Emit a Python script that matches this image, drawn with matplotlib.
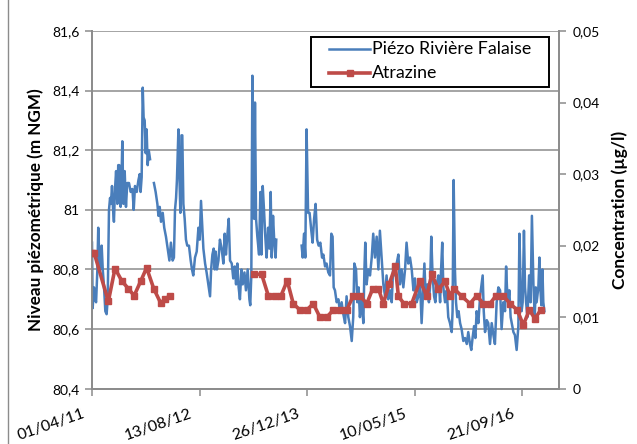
import numpy as np
import pandas as pd
import matplotlib
matplotlib.use("Agg")
import matplotlib.pyplot as plt
import matplotlib.dates as mdates
from matplotlib.ticker import FixedLocator, FuncFormatter
from matplotlib.lines import Line2D
from matplotlib.patches import Rectangle
from matplotlib.transforms import ScaledTranslation

plt.rcParams['font.family'] = ['Lato', 'DejaVu Sans']

# Groundwater level, Excel date serials (NaN marks a gap in the record)
piezo_serial = [
    40634, 40637, 40643, 40648, 40653, 40659, 40663, 40668, 40673, 40679,
    40684, 40690, 40696, 40702, 40707, 40713, 40718, 40722, 40727, 40732,
    40736, 40741, 40746, 40752, 40756, 40761, 40767, 40772, 40775, 40780,
    40786, 40792, 40798, 40806, 40814, 40822, 40828, 40834, 40842, 40850,
    40856, 40860, 40865, 40870, 40874, 40879, 40884, 40888, 40893, 40898,
    40904, 40913,
    40922, 40930, 40938, 40943, 40949, 40955, 40963, 40970, 40978, 40986,
    40994, 41001, 41009, 41015, 41020, 41025, 41029, 41036, 41040, 41045,
    41050, 41054, 41059, 41065, 41071, 41077, 41085, 41093, 41099, 41105,
    41113, 41121, 41129, 41135, 41141, 41147, 41152, 41160, 41167, 41175,
    41183, 41188, 41194, 41200, 41205, 41209, 41215, 41222, 41229, 41237,
    41245, 41251, 41257, 41263, 41270, 41276, 41284, 41291, 41298, 41304,
    41310, 41316, 41322, 41329, 41335, 41343, 41350, 41358, 41366, 41370,
    41375, 41380, 41384, 41388, 41392, 41397, 41403, 41411, 41417, 41422,
    41428, 41434, 41440, 41446, 41453, 41459, 41465, 41470, 41476, 41482,
    41488, 41491, 41550,
    41609, 41614, 41620, 41626, 41632, 41639, 41646, 41654, 41660, 41667,
    41674, 41681, 41688, 41696, 41704, 41710, 41718, 41725, 41733, 41741,
    41747, 41753, 41758, 41764, 41772, 41780, 41787, 41795, 41803, 41811,
    41818, 41826, 41834, 41842, 41849, 41854, 41862, 41868, 41874, 41880,
    41888, 41896, 41901, 41905, 41911, 41919, 41927, 41935, 41942, 41950,
    41958, 41966, 41973, 41981, 41989, 41997, 42004, 42012, 42020, 42028,
    42035, 42043, 42051, 42059, 42066, 42074, 42082, 42090, 42097, 42105,
    42113, 42121, 42129, 42136, 42144, 42152, 42160, 42167, 42175, 42180,
    42186, 42194, 42201, 42206, 42212, 42218, 42225, 42231, 42237, 42245,
    42253, 42257, 42263, 42268, 42276, 42284, 42291, 42299, 42307, 42311,
    42316, 42322, 42327, 42333, 42339, 42346, 42353, 42361, 42369, 42377,
    42384, 42392, 42398, 42404, 42411, 42417, 42423, 42431, 42439, 42446,
    42451, 42456, 42462, 42470, 42477, 42485, 42493, 42501, 42508, 42516,
    42524, 42532, 42539, 42547, 42555, 42560, 42564, 42570, 42575, 42581,
    42589, 42594, 42601, 42609, 42617, 42622, 42628, 42632, 42637, 42643,
    42648, 42653, 42659, 42667, 42674, 42680, 42687, 42693, 42698, 42702,
    42710, 42715, 42719, 42724, 42729, 42733, 42738,
]
piezo_level = [
    80.89, 80.67, 80.74, 80.70, 80.69, 80.80, 80.94, 80.84, 80.80, 80.88,
    80.80, 80.74, 80.66, 80.65, 80.70, 81.00, 81.04, 81.02, 81.08, 81.00,
    80.96, 81.07, 81.13, 81.02, 81.15, 81.15, 81.01, 81.13, 81.23, 81.02,
    81.13, 81.01, 81.09, 81.09, 81.06, 81.07, 81.00, 81.08, 81.06, 81.10,
    81.12, 81.06, 81.11, 81.41, 81.31, 81.30, 81.19, 81.27, 81.15, 81.20,
    81.17, np.nan,
    81.09, 81.06, 81.02, 80.98, 81.01, 80.96, 80.99, 80.94, 80.91, 80.87,
    80.83, 80.89, 80.83, 80.84, 81.00, 81.04, 81.10, 81.27, 81.13, 80.99,
    81.25, 81.25, 81.02, 80.97, 80.90, 80.88, 80.88, 80.83, 80.80, 80.78,
    80.84, 80.86, 80.94, 80.90, 81.03, 80.94, 80.87, 80.82, 80.79, 80.75,
    80.71, 80.80, 80.85, 80.87, 80.80, 80.86, 80.80, 80.83, 80.90, 80.87,
    80.82, 80.92, 80.85, 80.91, 80.97, 80.83, 80.82, 80.77, 80.81, 80.75,
    80.82, 80.74, 80.70, 80.80, 80.75, 80.79, 80.73, 80.80, 80.70, 80.68,
    80.78, 81.45, 81.00, 80.97, 81.36, 80.97, 80.91, 80.85, 81.06, 80.85,
    81.08, 81.00, 80.91, 80.84, 80.94, 80.87, 81.06, 80.84, 80.98, 80.89,
    80.84, 80.90, np.nan,
    80.88, 80.84, 80.92, 80.84, 81.27, 80.99, 80.99, 80.93, 80.89, 80.97,
    81.02, 80.90, 80.88, 80.89, 80.84, 80.85, 80.81, 80.82, 80.79, 80.78,
    80.92, 80.91, 80.74, 80.73, 80.69, 80.70, 80.66, 80.69, 80.65, 80.62,
    80.71, 80.64, 80.61, 80.56, 80.64, 80.82, 80.80, 80.69, 80.74, 80.64,
    80.70, 80.62, 80.80, 80.89, 80.75, 80.80, 80.78, 80.84, 80.92, 80.84,
    80.91, 80.80, 80.93, 80.84, 80.75, 80.71, 80.78, 80.70, 80.73, 80.69,
    80.81, 80.78, 80.82, 80.85, 80.75, 80.80, 80.74, 80.80, 80.89, 80.82,
    80.84, 80.80, 80.73, 80.77, 80.69, 80.71, 80.75, 80.62, 80.74, 80.82,
    80.71, 80.75, 80.69, 80.74, 80.91, 80.78, 80.71, 80.69, 80.75, 80.78,
    80.69, 80.79, 80.89, 80.74, 80.69, 80.73, 80.64, 80.62, 80.59, 80.66,
    81.10, 80.80, 80.69, 80.64, 80.66, 80.62, 80.60, 80.56, 80.57, 80.55,
    80.59, 80.55, 80.53, 80.57, 80.61, 80.57, 80.66, 80.62, 80.71, 80.75,
    80.78, 80.66, 80.59, 80.63, 80.62, 80.55, 80.62, 80.58, 80.55, 80.69,
    80.74, 80.73, 80.60, 80.69, 80.66, 80.81, 80.74, 80.69, 80.73, 80.64,
    80.61, 80.59, 80.58, 80.53, 80.61, 80.92, 80.73, 80.66, 80.69, 80.93,
    80.74, 80.69, 80.64, 80.78, 80.69, 80.98, 80.75, 80.64, 80.74, 80.69,
    80.74, 80.84, 80.74, 80.68, 80.80, 80.69, 80.66,
]

# Atrazine concentration (µg/l), Excel date serials (NaN marks a gap)
atrazine_serial = [
    40636, 40644, 40710, 40741, 40774, 40803, 40830, 40860, 40888, 40921,
    40953, 40974, 40995, 41200,
    41388, 41423, 41454, 41485, 41513, 41542, 41570, 41601, 41633, 41663,
    41694, 41726, 41756, 41787, 41819, 41849, 41880, 41912, 41940, 41966,
    41989, 42017, 42045, 42059, 42085, 42121, 42160, 42191, 42214, 42245,
    42276, 42299, 42318, 42354, 42392, 42423, 42454, 42485, 42513, 42547,
    42578, 42612, 42640, 42668, 42694, 42721,
]
atrazine_conc = [
    0.0189, 0.0190, 0.0122, 0.0168, 0.0150, 0.0140, 0.0130, 0.0150, 0.0169, 0.0140,
    0.0120, 0.0125, 0.0130, np.nan,
    0.0160, 0.0160, 0.0130, 0.0130, 0.0130, 0.0151, 0.0119, 0.0110, 0.0110, 0.0119,
    0.0100, 0.0100, 0.0110, 0.0110, 0.0110, 0.0130, 0.0130, 0.0119, 0.0140, 0.0140,
    0.0119, 0.0147, 0.0171, 0.0129, 0.0119, 0.0119, 0.0151, 0.0129, 0.0160, 0.0139,
    0.0150, 0.0130, 0.0140, 0.0129, 0.0119, 0.0130, 0.0119, 0.0119, 0.0130, 0.0130,
    0.0119, 0.0110, 0.0089, 0.0110, 0.0098, 0.0110,
]

series_names = ["Piézo Rivière Falaise", "Atrazine"]
level_ticks = [80.4, 80.6, 80.8, 81.0, 81.2, 81.4, 81.6]
conc_ticks = [0, 0.01, 0.02, 0.03, 0.04, 0.05]
axis_start = "2011-04-01"
axis_span_days = 2172
tick_step_days = 500


def excel_to_datetime(serial):
    return pd.to_datetime(np.asarray(serial, dtype=float), unit="D", origin="1899-12-30")


def comma_fmt(v, _pos=None):
    s = f"{v:.2f}".rstrip("0").rstrip(".")
    return s.replace(".", ",")


BLUE = "#4A7EBB"
RED = "#BE4B48"
GRID = "#8C8C8C"
W, H = 637, 444

fig = plt.figure(figsize=(W / 100, H / 100), dpi=100)
ax = fig.add_axes([92 / W, 1 - 388.7 / H, 467 / W, 357.7 / H])
ax2 = ax.twinx()

ax.plot(excel_to_datetime(piezo_serial), piezo_level, color=BLUE, lw=1.8,
        solid_joinstyle="round", zorder=3)
ax2.plot(excel_to_datetime(atrazine_serial), atrazine_conc, color=RED, lw=2.6,
         marker="s", ms=3.8, mec=RED, mfc=RED, zorder=4)

start = pd.Timestamp(axis_start)
ax.set_xlim(start, start + pd.Timedelta(days=axis_span_days))
xt = [start + pd.Timedelta(days=tick_step_days * i) for i in range(5)]
ax.xaxis.set_major_locator(FixedLocator(mdates.date2num(xt)))
ax.xaxis.set_major_formatter(mdates.DateFormatter("%d/%m/%y"))

ax.set_ylim(80.4, 81.6)
ax.yaxis.set_major_locator(FixedLocator(level_ticks))
ax.yaxis.set_major_formatter(FuncFormatter(comma_fmt))
ax2.set_ylim(0, 0.05)
ax2.yaxis.set_major_locator(FixedLocator(conc_ticks))
ax2.yaxis.set_major_formatter(FuncFormatter(comma_fmt))

ax.grid(axis="y", color=GRID, lw=1.1)
ax.set_axisbelow(True)

for a in (ax, ax2):
    a.spines["top"].set_visible(False)
    for side in ("left", "right", "bottom"):
        a.spines[side].set_color(GRID)
        a.spines[side].set_linewidth(1.3)
    a.tick_params(colors="black", length=5, width=1.1, color=GRID, labelsize=10)

ax.tick_params(axis="y", pad=4)
ax2.tick_params(axis="y", pad=5)
ax.tick_params(axis="x", labelsize=11.5, pad=8)
shift_left = ScaledTranslation(-0.10, 0, fig.dpi_scale_trans)
for tk in ax.xaxis.get_major_ticks():
    lab = tk.label1
    lab.set_rotation(19)
    lab.set_ha("right")
    lab.set_rotation_mode("anchor")
    lab.set_transform(lab.get_transform() + shift_left)

ax.set_ylabel("Niveau piézométrique (m NGM)", fontsize=12.3, fontweight="bold", labelpad=6)
ax2.set_ylabel("Concentration (µg/l)", fontsize=12.5, fontweight="bold", labelpad=8)

# Legend box with its two entries
fig.add_artist(Rectangle((311 / W, 1 - 86.7 / H), 238 / W, 50 / H,
                         transform=fig.transFigure, fill=True, facecolor="white",
                         edgecolor="black", lw=1.4, zorder=10))
rows = [(49.3, BLUE, 1.8, None), (73.3, RED, 2.6, "s")]
for (ypx, col, lw, mk), name in zip(rows, series_names):
    yf = 1 - ypx / H
    fig.add_artist(Line2D([329 / W, 370 / W], [yf, yf], color=col, lw=lw,
                          transform=fig.transFigure, zorder=11))
    if mk:
        fig.add_artist(Line2D([349.5 / W], [yf], color=col, marker=mk, ms=3.8,
                              transform=fig.transFigure, zorder=11))
    fig.text(372 / W, yf, name, fontsize=12.8, va="center", ha="left", zorder=12)

fig.add_artist(Line2D([8 / W, 8 / W], [0, 1], color=GRID, lw=1.0,
                      transform=fig.transFigure))

fig.savefig("out.png", dpi=100)
